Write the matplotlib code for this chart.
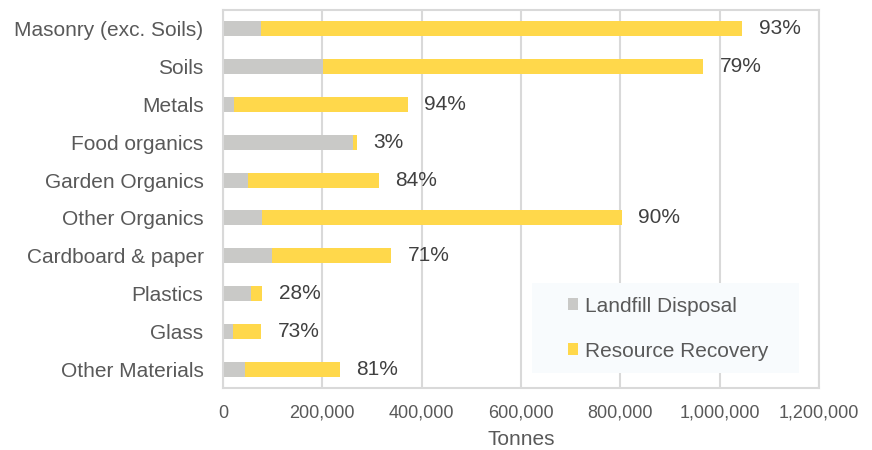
import numpy as np
import matplotlib.pyplot as plt
from matplotlib.patches import Rectangle
from matplotlib.ticker import FuncFormatter

plt.rcParams['font.family'] = ['Liberation Sans', 'DejaVu Sans']

categories = ['Masonry (exc. Soils)', 'Soils', 'Metals', 'Food organics',
              'Garden Organics', 'Other Organics', 'Cardboard & paper',
              'Plastics', 'Glass', 'Other Materials']
landfill = [76000, 201000, 22000, 262000, 50000, 78000, 99000, 57000, 21000, 44000]
recovery = [969000, 765000, 350000, 8000, 264000, 725000, 239000, 22500, 56000, 191500]

landfill = np.array(landfill)
recovery = np.array(recovery)
total = landfill + recovery
pct = recovery / total * 100

grey = '#c9c9c7'
yellow = '#ffd84b'
frame = '#d9d9d9'

fig = plt.figure(figsize=(8.72, 4.5), dpi=100)
ax = fig.add_axes([0.2557, 0.1378, 0.6835, 0.84])

y = np.arange(len(categories))
ax.barh(y, landfill, height=0.4, color=grey, label='Landfill Disposal', zorder=2)
ax.barh(y, recovery, left=landfill, height=0.4, color=yellow,
        label='Resource Recovery', zorder=2)

for yi, t, p in zip(y, total, pct):
    ax.annotate(f'{p:.0f}%', (t, yi), xytext=(12, 0), textcoords='offset points',
                va='center', ha='left', fontsize=15, color='#404040')

ax.set_xlim(0, 1200000)
ax.set_ylim(len(categories) - 0.5, -0.5)
ax.set_yticks(y)
ax.set_yticklabels(categories)
ax.set_xticks(np.arange(0, 1200001, 200000))
ax.xaxis.set_major_formatter(FuncFormatter(lambda v, _: f'{v:,.0f}'))
ax.tick_params(axis='y', length=0, pad=14, labelsize=15, labelcolor='#595959')
ax.tick_params(axis='x', length=0, pad=12, labelsize=13, labelcolor='#595959')
ax.set_xlabel('Tonnes', fontsize=15, color='#595959', labelpad=6)

ax.grid(axis='x', color=frame, linewidth=1.5, zorder=0)
ax.set_axisbelow(True)
for s in ax.spines.values():
    s.set_color(frame)
    s.set_linewidth(1.5)

# pale panel behind the legend
ax.add_patch(Rectangle((0.518, 0.04), 0.448, 0.238, transform=ax.transAxes,
                       facecolor='#f8fbfd', edgecolor='none', zorder=3))
leg = ax.legend(loc='center left', bbox_to_anchor=(0.579, 0.157), fontsize=15,
                frameon=False, handlelength=0.5, handleheight=0.5,
                handletextpad=0.3, labelspacing=1.25, borderpad=0,
                borderaxespad=0)
leg.set_zorder(4)
for t in leg.get_texts():
    t.set_color('#595959')

fig.savefig('out.png', dpi=100)
